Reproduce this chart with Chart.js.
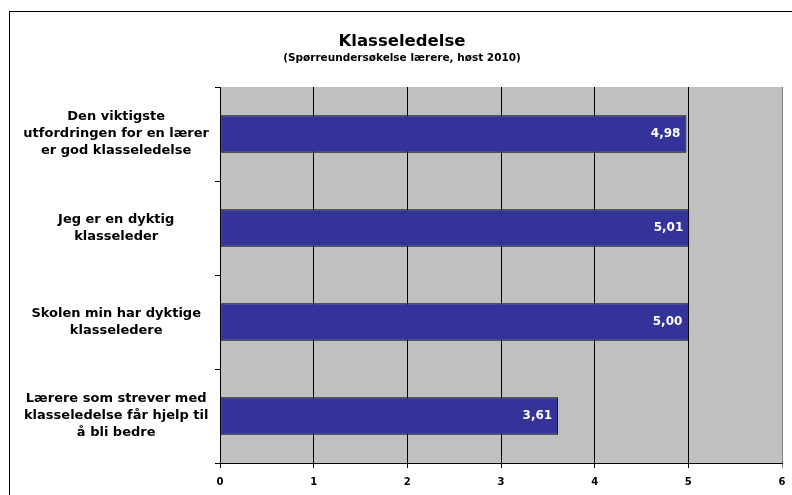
<!DOCTYPE html>
<html>
<head>
<meta charset="utf-8">
<script src="https://cdn.jsdelivr.net/npm/chart.js@4/dist/chart.umd.min.js"></script>
<style>
  html, body { margin: 0; padding: 0; background: #fff; }
  #wrap { width: 792px; height: 495px; }
</style>
</head>
<body>
<div id="wrap"><canvas id="chart"></canvas></div>
<script>
const categories = [
  ['Den viktigste', 'utfordringen for en lærer', 'er god klasseledelse'],
  ['Jeg er en dyktig', 'klasseleder'],
  ['Skolen min har dyktige', 'klasseledere'],
  ['Lærere som strever med', 'klasseledelse får hjelp til', 'å bli bedre']
];
const scores = [4.98, 5.01, 5.00, 3.61];
const xTicks = [0, 1, 2, 3, 4, 5, 6];

const FONT = "'DejaVu Sans', Verdana, sans-serif";

// grey plot area + outer frame
const backdrop = {
  id: 'backdrop',
  beforeDraw(chart) {
    const { ctx, chartArea } = chart;
    ctx.save();
    ctx.fillStyle = '#c0c0c0';
    ctx.fillRect(chartArea.left, chartArea.top, chartArea.right - chartArea.left, chartArea.bottom - chartArea.top);
    ctx.strokeStyle = '#000';
    ctx.lineWidth = 1;
    ctx.strokeRect(9.5, 11.5, 800, 500);
    ctx.restore();
  }
};

// value labels inside the bar end
const valueLabels = {
  id: 'valueLabels',
  afterDatasetsDraw(chart) {
    const { ctx } = chart;
    const meta = chart.getDatasetMeta(0);
    ctx.save();
    ctx.fillStyle = '#fff';
    ctx.font = 'bold 12px ' + FONT;
    ctx.textAlign = 'right';
    ctx.textBaseline = 'middle';
    meta.data.forEach((bar, i) => {
      ctx.fillText(scores[i].toFixed(2).replace('.', ','), bar.x - 6, bar.y);
    });
    ctx.restore();
  }
};

new Chart(document.getElementById('chart'), {
  type: 'bar',
  data: {
    labels: categories,
    datasets: [{
      data: scores,
      backgroundColor: '#333399',
      borderColor: '#000',
      borderWidth: 1,
      borderSkipped: false,
      barPercentage: 0.4,
      categoryPercentage: 1
    }]
  },
  options: {
    indexAxis: 'y',
    responsive: true,
    maintainAspectRatio: false,
    animation: false,
    layout: { padding: { left: 22, right: 10, top: 0, bottom: 0 } },
    plugins: {
      legend: { display: false },
      tooltip: { enabled: false },
      title: {
        display: true,
        text: 'Klasseledelse',
        color: '#000',
        font: { family: FONT, size: 16.5, weight: 'bold', lineHeight: 1.2 },
        padding: { top: 32, bottom: 0 }
      },
      subtitle: {
        display: true,
        text: '(Spørreundersøkelse lærere, høst 2010)',
        color: '#000',
        font: { family: FONT, size: 10.5, weight: 'bold', lineHeight: 1.2 },
        padding: { top: 0, bottom: 22.6 }
      }
    },
    scales: {
      x: {
        min: 0,
        max: 6,
        afterBuildTicks: (scale) => { scale.ticks = xTicks.map(v => ({ value: v })); },
        afterFit: (scale) => {
          scale.height = 32;
          scale.paddingLeft = 0;
          scale.paddingRight = 0;
        },
        grid: {
          color: (c) => c.tick && c.tick.value === 6 ? '#808080' : '#000',
          lineWidth: 1,
          tickLength: 5
        },
        border: { color: '#000', width: 1 },
        ticks: {
          color: '#000',
          padding: 8,
          font: { family: FONT, size: 10, weight: 'bold' },
          callback: (v) => v
        }
      },
      y: {
        afterFit: (scale) => { scale.width = 198; },
        grid: {
          drawOnChartArea: false,
          color: '#000',
          tickLength: 5
        },
        border: { color: '#000', width: 1 },
        ticks: {
          color: '#000',
          crossAlign: 'center',
          padding: 6,
          font: { family: FONT, size: 13, weight: 'bold', lineHeight: 1.3 }
        }
      }
    }
  },
  plugins: [backdrop, valueLabels]
});
</script>
</body>
</html>
